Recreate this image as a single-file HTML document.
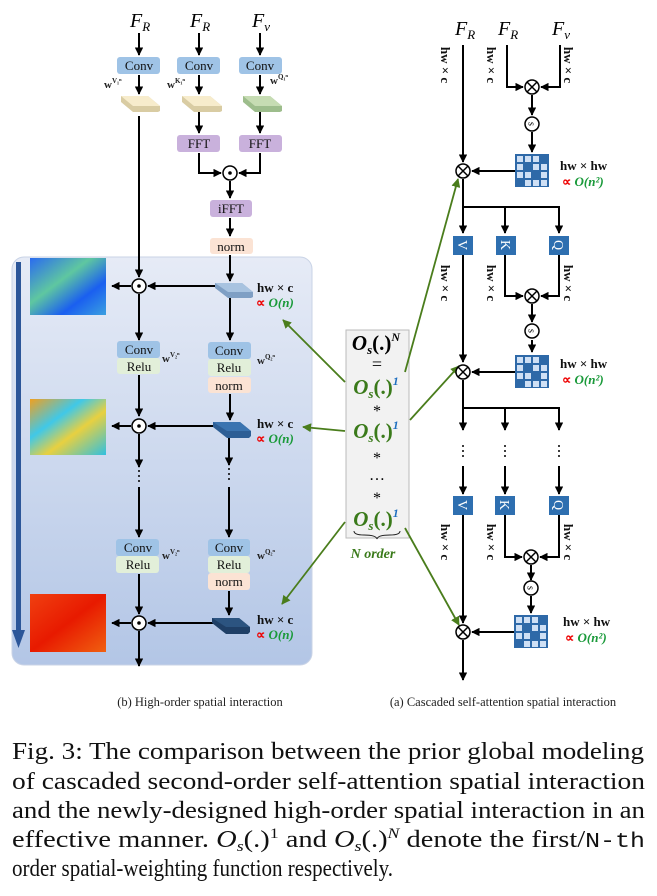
<!DOCTYPE html>
<html><head><meta charset="utf-8"><style>
html,body{margin:0;padding:0;background:#fff}
svg{display:block}
.s{font-family:"Liberation Serif",serif}
.b{font-family:"Liberation Sans",sans-serif}
</style></head><body>
<svg width="657" height="896" viewBox="0 0 657 896" xmlns="http://www.w3.org/2000/svg">
<defs>
<marker id="a" viewBox="0 0 10 10" refX="9" refY="5" markerWidth="4.2" markerHeight="4.2" orient="auto"><path d="M0,0L10,5L0,10z" fill="#000"/></marker>
<marker id="g" viewBox="0 0 10 10" refX="9" refY="5" markerWidth="5" markerHeight="5" orient="auto"><path d="M0,0L10,5L0,10z" fill="#4a7d1c"/></marker>
<linearGradient id="pg" x1="0" y1="0" x2="0" y2="1"><stop offset="0" stop-color="#e6ebf6"/><stop offset="1" stop-color="#b3c6e6"/></linearGradient>
<linearGradient id="i1" x1="0" y1="0" x2="1" y2="1"><stop offset="0" stop-color="#2a6bf0"/><stop offset=".4" stop-color="#5fc7a0"/><stop offset=".7" stop-color="#1a5ff0"/><stop offset="1" stop-color="#3aa0e0"/></linearGradient>
<linearGradient id="i2" x1="0" y1="0" x2="1" y2="1"><stop offset="0" stop-color="#f0a020"/><stop offset=".35" stop-color="#40c8e8"/><stop offset=".6" stop-color="#e8d040"/><stop offset="1" stop-color="#30c0e0"/></linearGradient>
<linearGradient id="i3" x1="0" y1="0" x2="1" y2="1"><stop offset="0" stop-color="#f04010"/><stop offset=".5" stop-color="#e81a00"/><stop offset="1" stop-color="#f06010"/></linearGradient>
<g id="mx"><rect x="0" y="0" width="34" height="33" fill="#2e69a8"/>
<g fill="#cfe0f5"><rect x="2" y="2" width="6" height="6"/><rect x="10" y="2" width="6" height="6"/><rect x="18" y="2" width="6" height="6"/><rect x="2" y="10" width="6" height="6"/><rect x="18" y="10" width="6" height="6"/><rect x="26" y="10" width="6" height="6"/><rect x="2" y="18" width="6" height="6"/><rect x="10" y="18" width="6" height="6"/><rect x="26" y="18" width="6" height="6"/><rect x="10" y="26" width="6" height="6"/><rect x="18" y="26" width="6" height="6"/><rect x="26" y="26" width="6" height="6"/></g></g>
<g id="ot"><circle r="7" fill="#fff" stroke="#000" stroke-width="1.5"/><path d="M-5,-5L5,5M5,-5L-5,5" stroke="#000" stroke-width="1.5"/></g>
<g id="od"><circle r="7" fill="#fff" stroke="#000" stroke-width="1.5"/><circle r="1.8" fill="#000"/></g>
<g id="sc"><circle r="7" fill="#fff" stroke="#000" stroke-width="1.5"/><text x="0" y="3.5" font-size="10" text-anchor="middle" font-family="Liberation Serif,serif" transform="rotate(90)">s</text></g>
</defs>

<rect x="12" y="257" width="300" height="408" rx="12" fill="url(#pg)" stroke="#c9d3e6"/>
<rect x="16" y="262" width="5" height="370" fill="#2c5699"/>
<path d="M12,630L25,630L18.5,648z" fill="#2c5699"/>

<g class="s" font-style="italic" font-size="20">
<text x="130" y="27">F<tspan font-size="13" dy="4">R</tspan></text>
<text x="190" y="27">F<tspan font-size="13" dy="4">R</tspan></text>
<text x="252" y="27">F<tspan font-size="13" dy="4">v</tspan></text>
<text x="455" y="35">F<tspan font-size="13" dy="4">R</tspan></text>
<text x="498" y="35">F<tspan font-size="13" dy="4">R</tspan></text>
<text x="552" y="35">F<tspan font-size="13" dy="4">v</tspan></text>
</g>

<g stroke="#000" stroke-width="2" fill="none" marker-end="url(#a)">
<path d="M139,33V55"/><path d="M199,33V55"/><path d="M260,33V55"/>
<path d="M139,75V94"/><path d="M199,75V94"/><path d="M260,75V94"/>
<path d="M199,112V133"/><path d="M260,112V133"/>
<path d="M199,153V173H221"/><path d="M260,153V173H239"/>
<path d="M230,181V198"/><path d="M230,218V236"/><path d="M230,255V281"/>
<path d="M139,116V277"/>
<path d="M215,286H148"/><path d="M131,286H112"/>
<path d="M139,294V340"/><path d="M230,296V340"/>
<path d="M139,375V416"/><path d="M230,394V420"/>
<path d="M222,426H148"/><path d="M131,426H112"/>
<path d="M139,434V467"/><path d="M229,438V465"/>
<path d="M139,487V537"/><path d="M229,487V537"/>
<path d="M139,574V614"/><path d="M229,591V615"/>
<path d="M220,623H148"/><path d="M131,623H112"/>
<path d="M139,631V666"/>
</g>
<g fill="#000"><circle cx="139" cy="471" r="1"/><circle cx="139" cy="476" r="1"/><circle cx="139" cy="481" r="1"/><circle cx="229" cy="469" r="1"/><circle cx="229" cy="474" r="1"/><circle cx="229" cy="479" r="1"/></g>

<g class="s" font-size="13" text-anchor="middle" fill="#111">
<rect x="117" y="57" width="43" height="17" rx="3" fill="#9fc3e6"/><text x="139" y="70">Conv</text>
<rect x="177" y="57" width="43" height="17" rx="3" fill="#9fc3e6"/><text x="199" y="70">Conv</text>
<rect x="239" y="57" width="43" height="17" rx="3" fill="#9fc3e6"/><text x="260" y="70">Conv</text>
<rect x="177" y="135" width="43" height="17" rx="3" fill="#c9b1dc"/><text x="199" y="148">FFT</text>
<rect x="239" y="135" width="43" height="17" rx="3" fill="#c9b1dc"/><text x="260" y="148">FFT</text>
<rect x="210" y="200" width="42" height="17" rx="3" fill="#c9b1dc"/><text x="231" y="213">iFFT</text>
<rect x="210" y="238" width="43" height="16" rx="3" fill="#fbe3d4"/><text x="231" y="251">norm</text>
<rect x="117" y="341" width="43" height="17" rx="3" fill="#9fc3e6"/><text x="139" y="354">Conv</text>
<rect x="117" y="358" width="43" height="16" rx="3" fill="#e2efd9"/><text x="139" y="371">Relu</text>
<rect x="208" y="342" width="43" height="17" rx="3" fill="#9fc3e6"/><text x="229" y="355">Conv</text>
<rect x="208" y="359" width="43" height="17" rx="3" fill="#e2efd9"/><text x="229" y="372">Relu</text>
<rect x="208" y="377" width="43" height="16" rx="3" fill="#fbe3d4"/><text x="229" y="390">norm</text>
<rect x="116" y="539" width="43" height="17" rx="3" fill="#9fc3e6"/><text x="138" y="552">Conv</text>
<rect x="116" y="556" width="43" height="17" rx="3" fill="#e2efd9"/><text x="138" y="569">Relu</text>
<rect x="208" y="539" width="42" height="17" rx="3" fill="#9fc3e6"/><text x="229" y="552">Conv</text>
<rect x="208" y="556" width="42" height="17" rx="3" fill="#e2efd9"/><text x="229" y="569">Relu</text>
<rect x="208" y="573" width="42" height="17" rx="3" fill="#fbe3d4"/><text x="229" y="586">norm</text>
</g>
<g class="s" font-size="11" font-weight="bold" fill="#222">
<text x="104" y="88">w<tspan font-size="7" dy="-5">V₁ⁿ</tspan></text>
<text x="167" y="88">w<tspan font-size="7" dy="-5">K₁ⁿ</tspan></text>
<text x="270" y="84">w<tspan font-size="7" dy="-5">Q₁ⁿ</tspan></text>
<text x="162" y="362">w<tspan font-size="7" dy="-5">V₂ⁿ</tspan></text>
<text x="257" y="364">w<tspan font-size="7" dy="-5">Q₂ⁿ</tspan></text>
<text x="162" y="559">w<tspan font-size="7" dy="-5">V₂ⁿ</tspan></text>
<text x="257" y="559">w<tspan font-size="7" dy="-5">Q₂ⁿ</tspan></text>
</g>

<g>
<path d="M121,96H148L160,106V111L158,112H133L121,102z" fill="#d9cca3"/><path d="M121,96H148L160,106H133z" fill="#f7eccc"/>
<path d="M182,96H210L222,106V111L220,112H194L182,102z" fill="#d9cca3"/><path d="M182,96H210L222,106H194z" fill="#f7eccc"/>
<path d="M243,96H270L282,106V111L280,112H255L243,102z" fill="#9dbd8c"/><path d="M243,96H270L282,106H255z" fill="#c6dcb3"/>
<path d="M215,283H242L253,292V297L251,298H228L215,288z" fill="#7f9fc4"/><path d="M215,283H242L253,292H228z" fill="#a8c3e0"/>
<path d="M213,422H240L251,431V436L249,438H227L213,427z" fill="#2d5e95"/><path d="M213,422H240L251,431H227z" fill="#3b74b0"/>
<path d="M212,618H239L250,627V632L248,634H226L212,623z" fill="#1f3f66"/><path d="M212,618H239L250,627H226z" fill="#2c5480"/>
</g>
<use href="#od" x="230" y="173"/><use href="#od" x="139" y="286"/><use href="#od" x="139" y="426"/><use href="#od" x="139" y="623"/>

<rect x="30" y="258" width="76" height="57" fill="url(#i1)"/>
<rect x="30" y="399" width="76" height="56" fill="url(#i2)"/>
<rect x="30" y="594" width="76" height="58" fill="url(#i3)"/>

<g class="s" font-size="13" font-weight="bold">
<text x="257" y="292" fill="#111">hw × c</text><text x="256" y="307" fill="#e00">∝ <tspan fill="#1a9a3a" font-style="italic">O(n)</tspan></text>
<text x="257" y="428" fill="#111">hw × c</text><text x="256" y="443" fill="#e00">∝ <tspan fill="#1a9a3a" font-style="italic">O(n)</tspan></text>
<text x="257" y="624" fill="#111">hw × c</text><text x="256" y="639" fill="#e00">∝ <tspan fill="#1a9a3a" font-style="italic">O(n)</tspan></text>
<text x="560" y="170" fill="#111">hw × hw</text><text x="562" y="186" fill="#e00">∝ <tspan fill="#1a9a3a" font-style="italic">O(n²)</tspan></text>
<text x="560" y="368" fill="#111">hw × hw</text><text x="562" y="384" fill="#e00">∝ <tspan fill="#1a9a3a" font-style="italic">O(n²)</tspan></text>
<text x="563" y="626" fill="#111">hw × hw</text><text x="565" y="642" fill="#e00">∝ <tspan fill="#1a9a3a" font-style="italic">O(n²)</tspan></text>
</g>

<rect x="346" y="330" width="63" height="208" fill="#f2f2f2" stroke="#bbb"/>
<g class="s" font-weight="bold" text-anchor="middle">
<text x="376" y="350" font-size="21" font-style="italic">O<tspan font-size="13" dy="4">s</tspan><tspan dy="-4" font-style="normal">(.)</tspan><tspan font-size="12" dy="-9">N</tspan></text>
<text x="377" y="370" font-size="18" font-weight="normal">=</text>
<text x="376" y="394" font-size="21" font-style="italic" fill="#3a7a1a">O<tspan font-size="13" dy="4">s</tspan><tspan dy="-4" font-style="normal">(.)</tspan><tspan font-size="12" dy="-9" fill="#1f6fc0">1</tspan></text>
<text x="377" y="416" font-size="16" font-weight="normal">*</text>
<text x="376" y="438" font-size="21" font-style="italic" fill="#3a7a1a">O<tspan font-size="13" dy="4">s</tspan><tspan dy="-4" font-style="normal">(.)</tspan><tspan font-size="12" dy="-9" fill="#1f6fc0">1</tspan></text>
<text x="377" y="463" font-size="16" font-weight="normal">*</text>
<text x="377" y="480" font-size="16" font-weight="normal">…</text>
<text x="377" y="503" font-size="16" font-weight="normal">*</text>
<text x="376" y="526" font-size="21" font-style="italic" fill="#3a7a1a">O<tspan font-size="13" dy="4">s</tspan><tspan dy="-4" font-style="normal">(.)</tspan><tspan font-size="12" dy="-9" fill="#1f6fc0">1</tspan></text>
<text x="373" y="558" font-size="14" font-style="italic" fill="#3a7a1a">N order</text>
</g>
<path d="M354,531q0,4 10,4q12,0 13,4q1,-4 13,-4q10,0 10,-4" fill="none" stroke="#222" stroke-width="1"/>
<g stroke="#4a7d1c" stroke-width="1.8" fill="none" marker-end="url(#g)">
<path d="M345,382L283,320"/><path d="M345,431L303,427"/><path d="M345,522L282,604"/>
<path d="M405,372L458,179"/><path d="M410,420L459,366"/><path d="M405,528L459,625"/>
</g>

<g stroke="#000" stroke-width="2" fill="none" marker-end="url(#a)">
<path d="M463,45V162"/>
<path d="M507,45V87H523"/><path d="M560,45V87H541"/>
<path d="M532,95V115"/><path d="M532,132V152"/>
<path d="M515,171H472"/>
<path d="M463,179V233"/><path d="M463,207H559V233"/><path d="M505,207V233"/>
<path d="M463,255V362"/>
<path d="M505,255V296H523"/><path d="M559,255V296H541"/>
<path d="M532,304V322"/><path d="M532,340V352"/>
<path d="M515,372H472"/>
<path d="M463,380V430"/><path d="M463,408H559V430"/><path d="M505,408V430"/>
<path d="M463,466V494"/><path d="M505,466V494"/><path d="M559,466V494"/>
<path d="M463,515V623"/>
<path d="M505,515V557H522"/><path d="M559,515V557H540"/>
<path d="M531,565V580"/><path d="M531,596V613"/>
<path d="M514,632H472"/>
<path d="M463,640V680"/>
</g>
<g fill="#000"><circle cx="463" cy="446" r="1"/><circle cx="463" cy="451" r="1"/><circle cx="463" cy="456" r="1"/><circle cx="505" cy="446" r="1"/><circle cx="505" cy="451" r="1"/><circle cx="505" cy="456" r="1"/><circle cx="559" cy="446" r="1"/><circle cx="559" cy="451" r="1"/><circle cx="559" cy="456" r="1"/></g>
<use href="#ot" x="532" y="87"/><use href="#ot" x="463" y="171"/><use href="#ot" x="532" y="296"/><use href="#ot" x="463" y="372"/><use href="#ot" x="531" y="557"/><use href="#ot" x="463" y="632"/>
<use href="#sc" x="532" y="124"/><use href="#sc" x="532" y="331"/><use href="#sc" x="531" y="588"/>
<use href="#mx" x="515" y="154"/><use href="#mx" x="515" y="355"/><use href="#mx" x="514" y="615"/>
<g class="s" font-size="14" fill="#fff" text-anchor="middle">
<rect x="453" y="236" width="20" height="19" fill="#2e6fb0"/><text transform="translate(458,245) rotate(90)">V</text>
<rect x="496" y="236" width="20" height="19" fill="#2e6fb0"/><text transform="translate(501,245) rotate(90)">K</text>
<rect x="549" y="236" width="20" height="19" fill="#2e6fb0"/><text transform="translate(554,245) rotate(90)">Q</text>
<rect x="453" y="496" width="20" height="19" fill="#2e6fb0"/><text transform="translate(458,505) rotate(90)">V</text>
<rect x="495" y="496" width="20" height="19" fill="#2e6fb0"/><text transform="translate(500,505) rotate(90)">K</text>
<rect x="549" y="496" width="20" height="19" fill="#2e6fb0"/><text transform="translate(554,505) rotate(90)">Q</text>
</g>
<g class="s" font-size="13" font-weight="bold" fill="#111" text-anchor="middle">
<text transform="translate(441,65) rotate(90)">hw × c</text>
<text transform="translate(487,65) rotate(90)">hw × c</text>
<text transform="translate(564,65) rotate(90)">hw × c</text>
<text transform="translate(441,283) rotate(90)">hw × c</text>
<text transform="translate(487,283) rotate(90)">hw × c</text>
<text transform="translate(564,283) rotate(90)">hw × c</text>
<text transform="translate(441,542) rotate(90)">hw × c</text>
<text transform="translate(487,542) rotate(90)">hw × c</text>
<text transform="translate(564,542) rotate(90)">hw × c</text>
</g>

<g class="s" font-size="12.5" fill="#222" text-anchor="middle">
<text x="200" y="706">(b) High-order spatial interaction</text>
<text x="503" y="706">(a) Cascaded self-attention spatial interaction</text>
</g>

<g class="s" font-size="24" fill="#111">
<text x="12" y="759" textLength="632" lengthAdjust="spacingAndGlyphs">Fig. 3: The comparison between the prior global modeling</text>
<text x="12" y="789" textLength="633" lengthAdjust="spacingAndGlyphs">of cascaded second-order self-attention spatial interaction</text>
<text x="12" y="818" textLength="633" lengthAdjust="spacingAndGlyphs">and the newly-designed high-order spatial interaction in an</text>
<text x="12" y="847" textLength="633" lengthAdjust="spacingAndGlyphs">effective manner. <tspan font-style="italic">O</tspan><tspan font-size="15" font-style="italic" dy="4">s</tspan><tspan dy="-4">(.)</tspan><tspan font-size="15" dy="-9">1</tspan><tspan dy="9"> and </tspan><tspan font-style="italic">O</tspan><tspan font-size="15" font-style="italic" dy="4">s</tspan><tspan dy="-4">(.)</tspan><tspan font-size="15" font-style="italic" dy="-9">N</tspan><tspan dy="9"> denote the first/</tspan><tspan font-family="Liberation Mono,monospace" font-size="21">N-th</tspan></text>
<text x="12" y="876" textLength="381" lengthAdjust="spacingAndGlyphs">order spatial-weighting function respectively.</text>
</g>
</svg>
</body></html>
